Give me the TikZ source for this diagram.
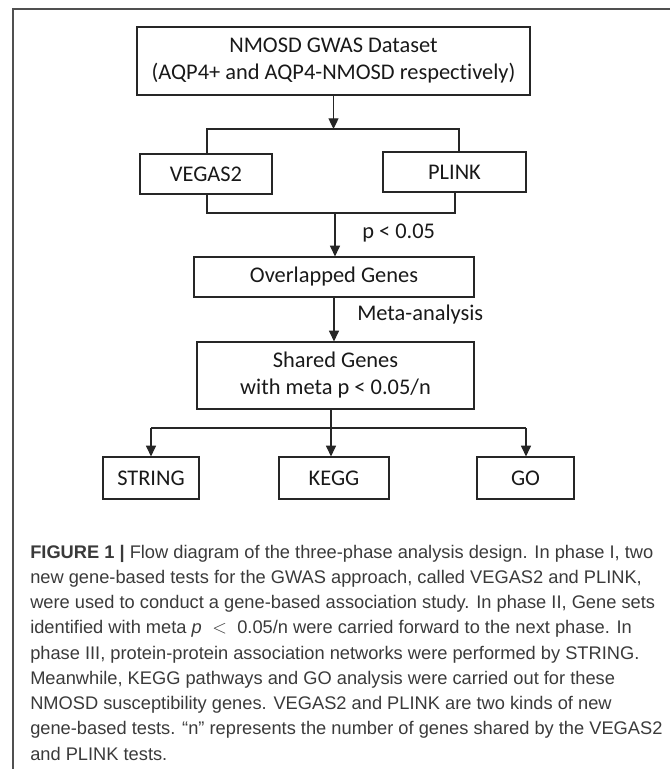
\documentclass[tikz,border=0pt]{standalone}
\usepackage{fontspec}
\setmainfont{Carlito}[Ligatures=NoCommon]
\newfontfamily\capfont{Liberation Sans}
\usetikzlibrary{arrows.meta}
\definecolor{captxt}{HTML}{3A3A3A}
\definecolor{framec}{HTML}{505050}
\begin{document}
\begin{tikzpicture}[x=0.75pt,y=-0.75pt,
  wh/.style 2 args={minimum width=#1*0.75pt, minimum height=#2*0.75pt},
  box/.style={draw=black!85, line width=0.9pt, inner sep=0pt, align=center,
    font=\fontsize{16.8}{20.25}\selectfont, text=black!90},
  conn/.style={draw=black!85, line width=0.9pt},
  arr/.style={conn, -{Triangle[length=8pt, width=7.5pt]}},
  lbl/.style={font=\fontsize{16.8}{20.25}\selectfont, text=black!90, inner sep=0pt},
  capline/.style={anchor=base west, inner sep=0pt, text=captxt,
    font=\capfont\fontsize{13.7}{18.9}\selectfont}]
\useasboundingbox (0,0) rectangle (670,769);
% frame
\draw[framec, line width=1.2pt] (13,769) -- (13,9) -- (670,9);
% boxes
\node[box, wh={393}{68}] (top) at (333.5,61) {NMOSD GWAS Dataset\\(AQP4+ and AQP4-NMOSD respectively)};
\node[box, wh={132}{40}] (veg) at (206,174) {VEGAS2};
\node[box, wh={143}{40}] (plink) at (454.5,172) {PLINK};
\node[box, wh={280}{40}] (ovl) at (334,277) {Overlapped Genes};
\node[box, wh={277}{67}] (sh) at (335.5,375.5) {Shared Genes\\with meta p < 0.05/n};
\node[box, wh={96}{42}] (str) at (151,478) {STRING};
\node[box, wh={110}{42}] (kegg) at (334,478) {KEGG};
\node[box, wh={97}{42}] (go) at (525.5,478) {GO};
% labels
\node[lbl, anchor=west] (plab) at (362,233) {p < 0.05};
\node[lbl, anchor=west] (mlab) at (357,315) {Meta-analysis};
% connectors
\coordinate (s1l) at (207,129);
\coordinate (s1r) at (459,129);
\draw[arr] (top.south) -- (top.south |- s1l);
\draw[conn] (veg.north -| s1l) -- (s1l) -- (s1r) -- (s1r |- plink.north);
\coordinate (m1l) at (207,213);
\coordinate (m1r) at (455,213);
\coordinate (m1c) at (335,213);
\draw[conn] (veg.south -| m1l) -- (m1l) -- (m1r) -- (plink.south -| m1r);
\draw[arr] (m1c) -- (m1c |- ovl.north);
\draw[arr] (ovl.south) -- (ovl.south |- sh.north);
\coordinate (b1) at (331,428);
\coordinate (b1l) at (151,428);
\coordinate (b1r) at (526,428);
\draw[conn] (sh.south -| b1) -- (b1);
\draw[conn] (b1l) -- (b1r);
\draw[arr] (b1l) -- (b1l |- str.north);
\draw[arr] (b1) -- (b1 |- kegg.north);
\draw[arr] (b1r) -- (b1r |- go.north);
% caption
\node[capline] (c1) at (30,558) {\textbf{FIGURE 1 |} Flow diagram of the three-phase analysis design. In phase I, two};
\node[capline] (c2) at (30,583.25) {new gene-based tests for the GWAS approach, called VEGAS2 and PLINK,};
\node[capline] (c3) at (30,608.5) {were used to conduct a gene-based association study. In phase II, Gene sets};
\node[capline] (c4) at (30,633.75) {identified with meta \textit{p} ${}<{}$ 0.05/n were carried forward to the next phase. In};
\node[capline] (c5) at (30,659) {phase III, protein-protein association networks were performed by STRING.};
\node[capline] (c6) at (30,684.25) {Meanwhile, KEGG pathways and GO analysis were carried out for these};
\node[capline] (c7) at (30,709.5) {NMOSD susceptibility genes. VEGAS2 and PLINK are two kinds of new};
\node[capline] (c8) at (30,734.75) {gene-based tests. “n” represents the number of genes shared by the VEGAS2};
\node[capline] (c9) at (30,760) {and PLINK tests.};
\end{tikzpicture}
\end{document}
